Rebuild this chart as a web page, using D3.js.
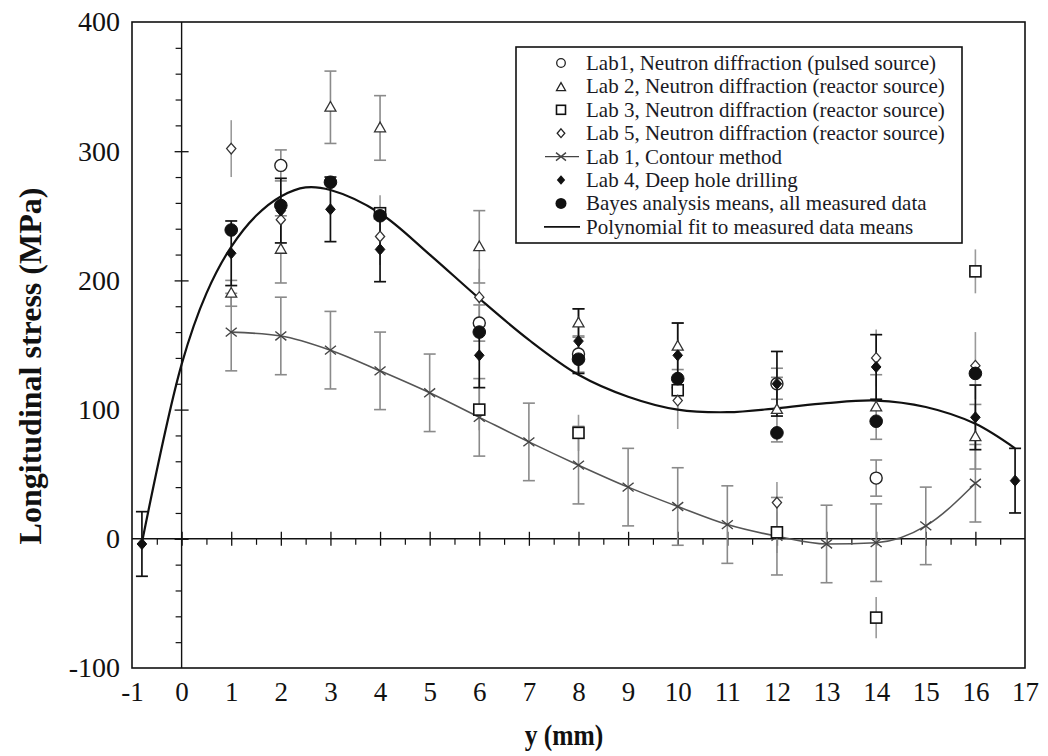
<!DOCTYPE html>
<html><head><meta charset="utf-8">
<script src="https://cdn.jsdelivr.net/npm/d3@7"></script>
<style>body{margin:0;background:#fff}svg text{font-family:"Liberation Serif","Times New Roman",serif}</style>
</head><body>
<svg id="c" width="1048" height="756"></svg>
<script>
// ---------- data ----------
const xTickValues = [-1,0,1,2,3,4,5,6,7,8,9,10,11,12,13,14,15,16,17];
const yTickValues = [-100,0,100,200,300,400];

const lab1X = [2, 6, 8, 12, 14];
const lab1Y = [289, 167, 143, 120, 47];
const lab1E = [12, 14, 14, 12, 14];

const lab2X = [1, 2, 3, 4, 6, 8, 10, 12, 14, 16];
const lab2Y = [190, 224, 334, 318, 226, 167, 149, 100, 102, 79];
const lab2E = [10, 26, 28, 25, 28, 11, 18, 25, 25, 25];

const lab3X = [4, 6, 8, 10, 12, 14, 16];
const lab3Y = [252, 100, 82, 115, 5, -61, 207];
const lab3E = [14, 16, 14, 16, 16, 16, 17];

const lab5X = [1, 2, 4, 6, 10, 12, 14, 16];
const lab5Y = [302, 247, 234, 187, 107, 28, 140, 134];
const lab5E = [22, 22, 22, 22, 22, 16, 22, 26];

const contourX = [1,2,3,4,5,6,7,8,9,10,11,12,13,14,15,16];
const contourY = [160, 157, 146, 130, 113, 94, 75, 57, 40, 25, 11, 2, -4, -3, 10, 43];
const contourE = [30,30,30,30,30,30,30,30,30,30,30,30,30,30,30,30];

const lab4X = [-0.8, 1, 2, 3, 4, 6, 8, 10, 12, 14, 16, 16.8];
const lab4Y = [-4, 221, 254, 255, 224, 142, 153, 142, 120, 133, 94, 45];
const lab4E = [25,25,25,25,25,25,25,25,25,25,25,25];

const bayesX = [1, 2, 3, 4, 6, 8, 10, 12, 14, 16];
const bayesY = [239, 258, 276, 250, 160, 139, 124, 82, 91, 128];

const polyX = [-0.8, 0, 0.5, 1, 1.5, 2, 2.5, 3, 4, 5, 6, 7, 8, 9, 10, 11, 12, 13, 14, 15, 16, 16.8];
const polyY = [-3, 135, 190, 226, 250, 265, 272, 270, 252, 220, 186, 154, 127, 110, 100, 98, 101, 105, 107, 102, 89, 70];

const legendLabels = [
  "Lab1, Neutron diffraction (pulsed source)",
  "Lab 2, Neutron diffraction (reactor source)",
  "Lab 3, Neutron diffraction (reactor source)",
  "Lab 5, Neutron diffraction (reactor source)",
  "Lab 1, Contour method",
  "Lab 4, Deep hole drilling",
  "Bayes analysis means, all measured data",
  "Polynomial fit to measured data means"
];

// ---------- layout ----------
const svg = d3.select("#c");
const L = 132, R = 1025, T = 22, B = 668;
const x = d3.scaleLinear().domain([-1, 17]).range([L, R]);
const y = d3.scaleLinear().domain([-100, 400]).range([B, T]);
const zip = (xs, ys, es) => xs.map((v, i) => ({x: v, y: ys[i], e: es ? es[i] : 0}));
const fmt = d => String(d);

// frame
svg.append("rect").attr("x", L).attr("y", T).attr("width", R - L).attr("height", B - T)
  .attr("fill", "none").attr("stroke", "#111").attr("stroke-width", 1.6);

// axes through origin
const gx = svg.append("g").attr("transform", `translate(0,${y(0)})`)
  .call(d3.axisBottom(x).tickValues(xTickValues.filter(v => v > -1 && v < 17)).tickSize(7).tickFormat(""));
gx.select(".domain").remove();
gx.selectAll(".tick line").attr("y1", -7).attr("stroke", "#111").attr("stroke-width", 1.3);
const minorX = d3.range(-0.5, 17, 1);
const gxm = svg.append("g").attr("transform", `translate(0,${y(0)})`)
  .call(d3.axisBottom(x).tickValues(minorX).tickSize(6).tickFormat(""));
gxm.select(".domain").remove();
gxm.selectAll(".tick line").attr("stroke", "#111").attr("stroke-width", 1.2);
svg.append("line").attr("x1", L).attr("x2", R).attr("y1", y(0)).attr("y2", y(0))
  .attr("stroke", "#111").attr("stroke-width", 1.4);

const gy = svg.append("g").attr("transform", `translate(${x(0)},0)`)
  .call(d3.axisLeft(y).tickValues(yTickValues.filter(v => v > -100 && v < 400)).tickSize(7).tickFormat(""));
gy.select(".domain").remove();
gy.selectAll(".tick line").attr("x1", 7).attr("stroke", "#111").attr("stroke-width", 1.3);
const minorY = d3.range(-80, 400, 20).filter(v => v % 100 !== 0);
const gym = svg.append("g").attr("transform", `translate(${x(0)},0)`)
  .call(d3.axisLeft(y).tickValues(minorY).tickSize(6).tickFormat(""));
gym.select(".domain").remove();
gym.selectAll(".tick line").attr("stroke", "#111").attr("stroke-width", 1.2);
svg.append("line").attr("x1", x(0)).attr("x2", x(0)).attr("y1", T).attr("y2", B)
  .attr("stroke", "#111").attr("stroke-width", 1.4);

// tick labels on the frame
const gxl = svg.append("g").attr("transform", `translate(0,${B})`)
  .call(d3.axisBottom(x).tickValues(xTickValues).tickSize(0).tickPadding(14).tickFormat(fmt));
gxl.select(".domain").remove();
gxl.selectAll("text").attr("font-size", 27).attr("fill", "#111").attr("font-family", "Liberation Serif");
const gyl = svg.append("g").attr("transform", `translate(${L},0)`)
  .call(d3.axisLeft(y).tickValues(yTickValues).tickSize(0).tickPadding(12).tickFormat(fmt));
gyl.select(".domain").remove();
gyl.selectAll("text").attr("font-size", 28).attr("fill", "#111").attr("font-family", "Liberation Serif");

// axis titles
svg.append("text").attr("transform", "translate(564,745) scale(0.88,1.05)").attr("text-anchor", "middle")
  .attr("font-size", 29).attr("font-weight", "bold").attr("fill", "#111").text("y (mm)");
svg.append("text").attr("transform", `translate(41,366) rotate(-90)`)
  .attr("text-anchor", "middle").attr("font-size", 32).attr("font-weight", "bold").attr("fill", "#111")
  .text("Longitudinal stress (MPa)");

// ---------- error bars ----------
function errBars(data, color, cap, width) {
  const g = svg.append("g");
  data.forEach(d => {
    if (!d.e) return;
    g.append("line").attr("x1", x(d.x)).attr("x2", x(d.x)).attr("y1", y(d.y - d.e)).attr("y2", y(d.y + d.e))
      .attr("stroke", color).attr("stroke-width", width);
    if (cap) {
      [d.y - d.e, d.y + d.e].forEach(v => g.append("line").attr("x1", x(d.x) - cap).attr("x2", x(d.x) + cap)
        .attr("y1", y(v)).attr("y2", y(v)).attr("stroke", color).attr("stroke-width", width));
    }
  });
}
const lab1 = zip(lab1X, lab1Y, lab1E), lab2 = zip(lab2X, lab2Y, lab2E), lab3 = zip(lab3X, lab3Y, lab3E),
  lab5 = zip(lab5X, lab5Y, lab5E), contour = zip(contourX, contourY, contourE), lab4 = zip(lab4X, lab4Y, lab4E),
  bayes = zip(bayesX, bayesY), poly = zip(polyX, polyY);

errBars(lab5, "#9a9a9a", 0, 1.6);
errBars(lab3, "#9a9a9a", 0, 1.6);
errBars(contour, "#8a8a8a", 6, 1.6);
errBars(lab2, "#8a8a8a", 6, 1.6);
errBars(lab1, "#8a8a8a", 6, 1.6);
errBars(lab4, "#111", 6, 1.7);

// ---------- lines ----------
svg.append("path").datum(contour).attr("fill", "none").attr("stroke", "#555").attr("stroke-width", 1.6)
  .attr("d", d3.line().x(d => x(d.x)).y(d => y(d.y)).curve(d3.curveMonotoneX));
svg.append("path").datum(poly).attr("fill", "none").attr("stroke", "#111").attr("stroke-width", 2.2)
  .attr("d", d3.line().x(d => x(d.x)).y(d => y(d.y)).curve(d3.curveCatmullRom));

// ---------- markers ----------
const sym = {
  circle: (g, cx, cy, s) => g.append("circle").attr("cx", cx).attr("cy", cy).attr("r", s),
  triangle: (g, cx, cy, s) => g.append("path").attr("d", `M${cx},${cy - s * 1.05}L${cx + s},${cy + s * 0.7}L${cx - s},${cy + s * 0.7}Z`),
  square: (g, cx, cy, s) => g.append("rect").attr("x", cx - s).attr("y", cy - s).attr("width", 2 * s).attr("height", 2 * s),
  diamond: (g, cx, cy, s) => g.append("path").attr("d", `M${cx},${cy - s * 1.15}L${cx + s},${cy}L${cx},${cy + s * 1.15}L${cx - s},${cy}Z`),
  cross: (g, cx, cy, s) => g.append("path").attr("d", `M${cx - s},${cy - s * 0.8}L${cx + s},${cy + s * 0.8}M${cx - s},${cy + s * 0.8}L${cx + s},${cy - s * 0.8}`)
};
function markers(data, kind, s, fill, stroke, sw) {
  const g = svg.append("g");
  data.forEach(d => sym[kind](g, x(d.x), y(d.y), s).attr("fill", fill).attr("stroke", stroke).attr("stroke-width", sw));
}
markers(contour, "cross", 5.5, "none", "#444", 1.4);
markers(lab3, "square", 5.5, "#fff", "#111", 1.6);
markers(lab2, "triangle", 5.5, "#fff", "#333", 1.3);
markers(lab5, "diamond", 4.6, "#fff", "#333", 1.3);
markers(lab1, "circle", 6, "#fff", "#222", 1.4);
markers(bayes, "circle", 6.3, "#111", "#111", 1);
markers(lab4, "diamond", 4.8, "#111", "#111", 1);

// ---------- legend ----------
const lgX = 516, lgY = 47, lgW = 446, lgH = 196;
svg.append("rect").attr("x", lgX).attr("y", lgY).attr("width", lgW).attr("height", lgH)
  .attr("fill", "#fff").attr("stroke", "#111").attr("stroke-width", 1.6);
const rowY = i => 63 + i * 23.4;
const symX = 561;
const lg = svg.append("g");
const legendSyms = [
  g => sym.circle(g, symX, 0, 4.3).attr("fill", "#fff").attr("stroke", "#222").attr("stroke-width", 1.3),
  g => sym.triangle(g, symX, 1, 4.5).attr("fill", "#fff").attr("stroke", "#222").attr("stroke-width", 1.3),
  g => sym.square(g, symX, 0, 4.5).attr("fill", "#fff").attr("stroke", "#111").attr("stroke-width", 1.6),
  g => sym.diamond(g, symX, 0, 3.8).attr("fill", "#fff").attr("stroke", "#222").attr("stroke-width", 1.3),
  g => { g.append("line").attr("x1", symX - 16).attr("x2", symX + 18).attr("y1", 0).attr("y2", 0).attr("stroke", "#444").attr("stroke-width", 1.4);
         sym.cross(g, symX, 0, 5).attr("fill", "none").attr("stroke", "#444").attr("stroke-width", 1.4); },
  g => sym.diamond(g, symX, 0, 4.2).attr("fill", "#111"),
  g => sym.circle(g, symX, 0, 5.5).attr("fill", "#111"),
  g => g.append("line").attr("x1", symX - 17).attr("x2", symX + 19).attr("y1", 0).attr("y2", 0).attr("stroke", "#111").attr("stroke-width", 1.8)
];
legendLabels.forEach((t, i) => {
  const g = lg.append("g").attr("transform", `translate(0,${rowY(i)})`);
  legendSyms[i](g);
  g.append("text").attr("x", 586).attr("y", 7).attr("font-size", 21).attr("fill", "#1a1a24").text(t);
});
</script>
</body></html>
